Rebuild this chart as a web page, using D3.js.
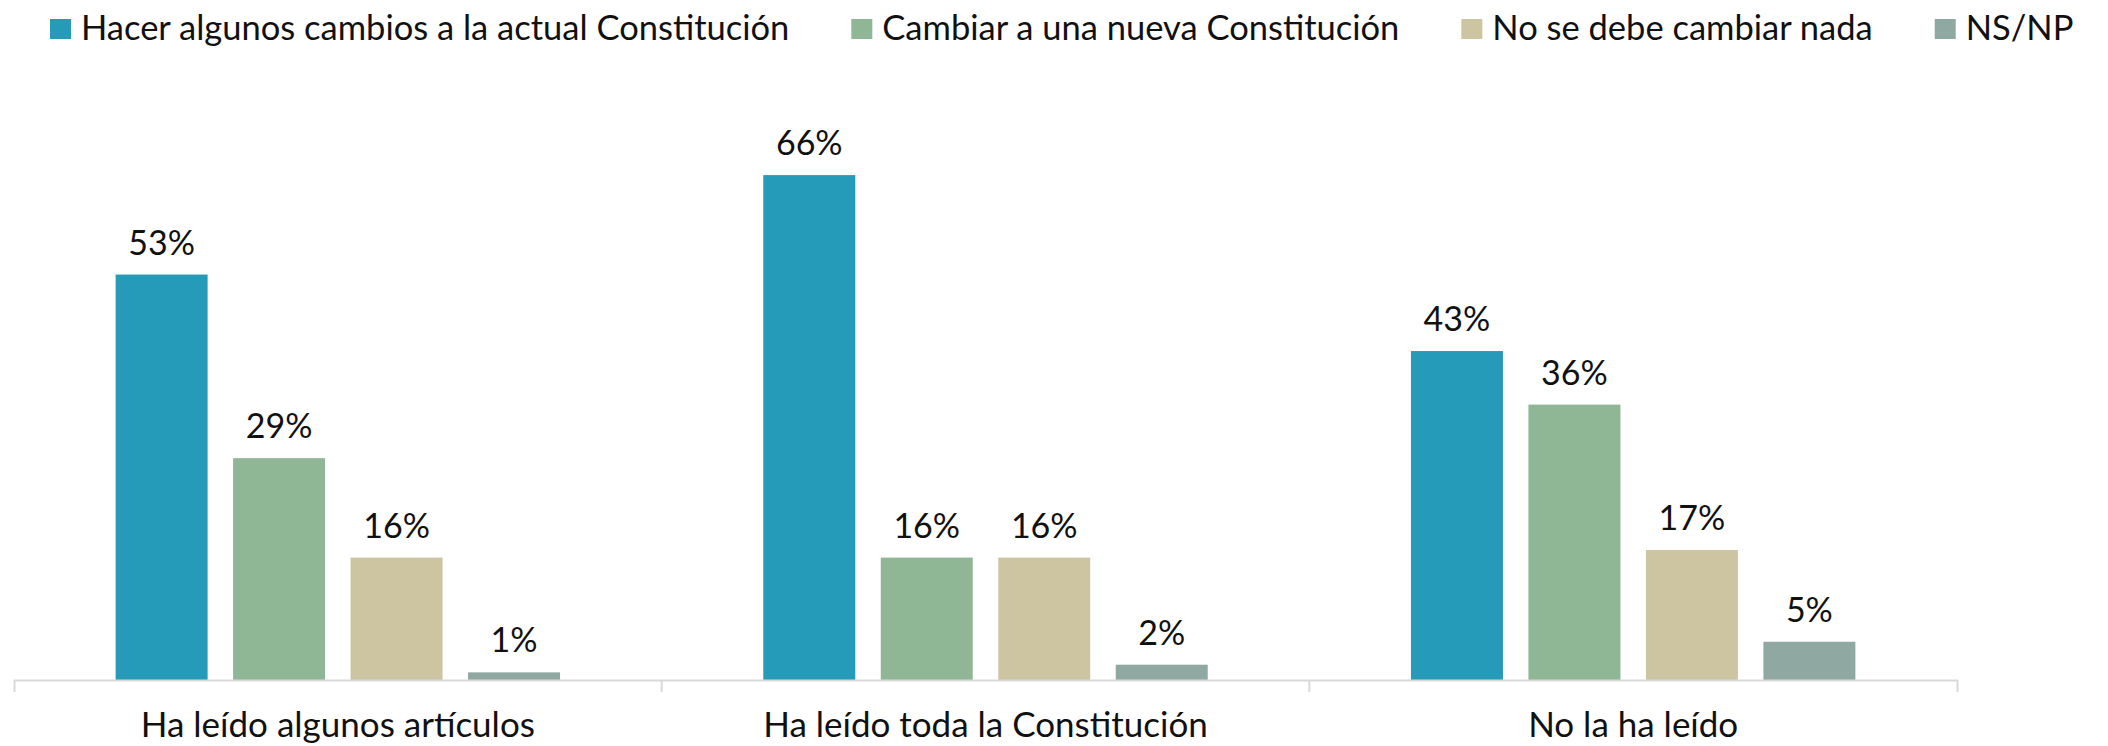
<!DOCTYPE html>
<html>
<head>
<meta charset="utf-8">
<script src="https://cdn.jsdelivr.net/npm/d3@7"></script>
<style>
    body { margin: 0; background: #fff; }
    svg { display: block; font-family: Lato, "Open Sans", sans-serif; }
</style>
</head>
<body>
<svg id="chart" width="2108" height="746"></svg>
<script>
// chart data
var categories = ['Ha leído algunos artículos', 'Ha leído toda la Constitución', 'No la ha leído'];
var seriesNames = ['Hacer algunos cambios a la actual Constitución', 'Cambiar a una nueva Constitución', 'No se debe cambiar nada', 'NS/NP'];
var seriesColors = ['#259ab9', '#8fb795', '#cdc4a2', '#8fa8a2'];

// one array per series, in category order
var hacerCambios = [53, 66, 43];
var nuevaConstitucion = [29, 16, 36];
var noCambiar = [16, 16, 17];
var nsnp = [1, 2, 5];
var seriesValues = [hacerCambios, nuevaConstitucion, noCambiar, nsnp];

// flatten into rows for drawing
var rows = [];
categories.forEach(function(cat, i) {
    seriesNames.forEach(function(name, j) {
        rows.push({ category: cat, series: name, value: seriesValues[j][i], color: seriesColors[j] });
    });
});

var svg = d3.select('#chart');
var axisY = 680;

// group scale spans the whole axis
var x0 = d3.scaleBand()
    .domain(categories)
    .range([14, 1957])
    .paddingInner(0)
    .paddingOuter(0);

// bars inside each group
var x1 = d3.scaleBand()
    .domain(seriesNames)
    .range([0, x0.bandwidth()])
    .paddingInner(0.217)
    .paddingOuter(0.865);

var yScale = d3.scaleLinear()
    .domain([0, 70])
    .range([axisY, axisY - 70 * 7.65]);

// bars
var groups = svg.append('g')
    .selectAll('g')
    .data(categories)
    .join('g')
    .attr('transform', function(d) { return 'translate(' + x0(d) + ',0)'; });

groups.selectAll('rect')
    .data(function(cat) { return rows.filter(function(r) { return r.category === cat; }); })
    .join('rect')
    .attr('x', function(d) { return x1(d.series); })
    .attr('y', function(d) { return yScale(d.value); })
    .attr('width', x1.bandwidth())
    .attr('height', function(d) { return yScale(0) - yScale(d.value); })
    .attr('fill', function(d) { return d.color; });

// value labels above bars
groups.selectAll('text')
    .data(function(cat) { return rows.filter(function(r) { return r.category === cat; }); })
    .join('text')
    .attr('x', function(d) { return x1(d.series) + x1.bandwidth() / 2; })
    .attr('y', function(d) { return yScale(d.value) - 20; })
    .attr('text-anchor', 'middle')
    .attr('font-size', 34)
    .attr('fill', '#111')
    .text(function(d) { return d.value + '%'; });

// x axis: outer ticks at the ends, labels centred on groups
var xAxis = svg.append('g')
    .attr('transform', 'translate(0,' + axisY + ')')
    .call(d3.axisBottom(x0).tickSizeInner(0).tickSizeOuter(12));

xAxis.select('.domain')
    .attr('stroke', '#d9d9d9')
    .attr('stroke-width', 2);

xAxis.selectAll('text')
    .attr('y', 57)
    .attr('dy', null)
    .attr('font-size', 35)
    .attr('font-family', 'Lato, "Open Sans", sans-serif')
    .attr('fill', '#111');

// separators between groups
xAxis.selectAll('.sep')
    .data(categories.slice(1))
    .join('line')
    .attr('class', 'sep')
    .attr('x1', function(d) { return x0(d); })
    .attr('x2', function(d) { return x0(d); })
    .attr('y1', 0)
    .attr('y2', 12)
    .attr('stroke', '#d9d9d9')
    .attr('stroke-width', 2);

// legend along the top
var legend = svg.append('g').attr('class', 'legend');
var legendX = 50;
seriesNames.forEach(function(name, i) {
    var item = legend.append('g').attr('transform', 'translate(' + legendX + ',0)');
    item.append('rect')
        .attr('x', 0)
        .attr('y', 19)
        .attr('width', 21)
        .attr('height', 20)
        .attr('fill', seriesColors[i]);
    var label = item.append('text')
        .attr('x', 31)
        .attr('y', 40)
        .attr('font-size', 34.5)
        .attr('fill', '#111')
        .text(name);
    legendX += 31 + label.node().getComputedTextLength() + 62;
});
</script>
</body>
</html>
